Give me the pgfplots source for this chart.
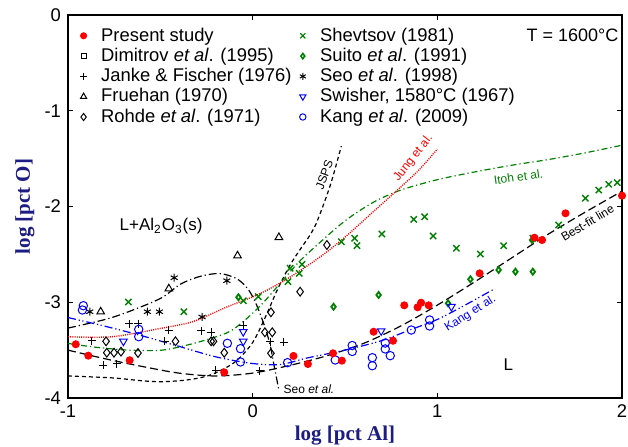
\documentclass[border=0pt]{standalone}
\usepackage{pgfplots}
\pgfplotsset{compat=1.18}
\usepackage{fontspec}
\setmainfont{Liberation Sans}
\newfontfamily\timesfont{Liberation Serif}
\definecolor{axlab}{RGB}{28,28,130}
\definecolor{dgreen}{RGB}{0,128,0}
\definecolor{pblue}{RGB}{0,0,255}
\definecolor{pred}{RGB}{255,0,0}
\begin{document}
\begin{tikzpicture}
\begin{axis}[
  scale only axis, width=277pt, height=191.5pt,
  xmin=-1, xmax=2, ymin=-4, ymax=0,
  xtick={-1,0,1,2}, xticklabels={-1,0,1,2},
  ytick={-4,-3,-2,-1,0}, yticklabels={-4,-3,-2,-1,0},
  tick align=inside, major tick length=2.5pt,
  axis line style={line width=0.6pt},
  tick style={line width=0.6pt, black},
  tick label style={font=\fontsize{9.2}{11}\selectfont},
  xlabel={\timesfont\bfseries log [pct Al]},
  ylabel={\timesfont\bfseries log [pct O]},
  label style={font=\fontsize{10.5}{12}\selectfont, text=axlab},
  xlabel style={at={(axis description cs:0.5,-0.0992)}, anchor=center},
  ylabel style={at={(axis description cs:-0.078,0.5)}, anchor=center},
  clip=false,
  legend columns=2,
  legend cell align=left,
  legend image code/.code={\draw[mark repeat=2,mark phase=2,#1] plot coordinates {(0pt,0pt)(3.4pt,0pt)(6.8pt,0pt)};},
  legend style={draw=none, fill=none, at={(0,1)}, anchor=north west, xshift=6.1pt, yshift=-5.55pt,
    inner sep=0pt, outer sep=0pt, row sep=0.45pt, font=\fontsize{9.2}{11}\selectfont,
    nodes={inner sep=0pt, text height=0.75em, text depth=0.22em},
    /tikz/every odd column/.append style={column sep=7.1pt},
    /tikz/every even column/.append style={column sep=4.1pt}},
  mstyle/.style={only marks, line width=0.5pt},
]
% legend images (interleaved so that the two columns read as in the reference)
\addlegendimage{mstyle, mark=*, mark size=1.5pt, color=pred, fill=pred}
\addlegendentry{Present study}
\addlegendimage{mstyle, mark=x, mark size=1.8pt, color=dgreen, line width=0.6pt}
\addlegendentry{Shevtsov (1981)}
\addlegendimage{mstyle, mark=square, mark size=1.2pt, color=black}
\addlegendentry{Dimitrov \textit{et al}. (1995)}
\addlegendimage{mstyle, mark=diamond, mark size=1.3pt, color=dgreen, line width=0.8pt}
\addlegendentry{Suito \textit{et al}. (1991)}
\addlegendimage{mstyle, mark=+, mark size=1.7pt, color=black}
\addlegendentry{Janke \& Fischer (1976)}
\addlegendimage{mstyle, mark=asterisk, mark size=1.7pt, color=black}
\addlegendentry{Seo \textit{et al}. (1998)}
\addlegendimage{mstyle, mark=triangle, mark size=1.8pt, color=black}
\addlegendentry{Fruehan (1970)}
\addlegendimage{mstyle, mark=triangle, mark size=1.8pt, color=pblue, mark options={rotate=180}}
\addlegendentry{Swisher, 1580°C (1967)}
\addlegendimage{mstyle, mark=diamond, mark size=1.8pt, color=black}
\addlegendentry{Rohde \textit{et al}. (1971)}
\addlegendimage{mstyle, mark=o, mark size=1.6pt, color=pblue}
\addlegendentry{Kang \textit{et al}. (2009)}

% ---------- curves ----------
% Best-fit line
\addplot[forget plot, black, line width=0.6pt, dash pattern=on 4pt off 2pt, smooth] coordinates {
(-1,-3.50) (-0.8,-3.59) (-0.6,-3.67) (-0.4,-3.74) (-0.2,-3.77) (0,-3.74) (0.2,-3.66)
(0.4,-3.56) (0.6,-3.43) (0.8,-3.25) (1.0,-3.03) (1.2,-2.79) (1.4,-2.54) (1.6,-2.29)
(1.8,-2.06) (2.0,-1.84)};
% JSPS
\addplot[forget plot, black, line width=0.6pt, dash pattern=on 2pt off 1.5pt, smooth] coordinates {
(-1,-3.77) (-0.76,-3.79) (-0.6,-3.82) (-0.49,-3.83) (-0.35,-3.81) (-0.23,-3.76) (-0.1,-3.63)
(0.0,-3.42) (0.077,-3.12) (0.131,-2.88) (0.2,-2.62) (0.26,-2.44) (0.31,-2.30) (0.35,-2.15)
(0.42,-1.78) (0.48,-1.37)};
% Seo et al.
\addplot[forget plot, black, line width=0.6pt, dash pattern=on 4pt off 1.5pt on 0.6pt off 1.5pt, smooth] coordinates {
(-1,-3.27) (-0.78,-3.17) (-0.62,-3.06) (-0.49,-2.95) (-0.39,-2.81) (-0.285,-2.73) (-0.18,-2.70)
(-0.09,-2.75) (-0.03,-2.85) (0.01,-2.98) (0.04,-3.12) (0.07,-3.28) (0.095,-3.45) (0.113,-3.63)
(0.13,-3.80) (0.14,-3.90)};
% Kang et al.
\addplot[forget plot, pblue, line width=0.6pt, dash pattern=on 4pt off 1.5pt on 0.6pt off 1.2pt on 0.6pt off 1.5pt, smooth] coordinates {
(-1,-3.16) (-0.8,-3.25) (-0.6,-3.35) (-0.4,-3.46) (-0.2,-3.57) (0,-3.64) (0.15,-3.65)
(0.3,-3.58) (0.5,-3.50) (0.7,-3.40) (0.85,-3.29) (1.0,-3.18) (1.15,-3.03) (1.3,-2.87)};
% Itoh et al.
\addplot[forget plot, dgreen, line width=0.6pt, dash pattern=on 3pt off 1.5pt on 0.6pt off 1.5pt, smooth] coordinates {
(-1,-3.43) (-0.85,-3.47) (-0.67,-3.50) (-0.49,-3.50) (-0.32,-3.43) (-0.14,-3.32) (-0.05,-3.20)
(0.05,-3.02) (0.15,-2.80) (0.25,-2.58) (0.35,-2.40) (0.5,-2.15) (0.65,-1.96) (0.8,-1.83)
(1.0,-1.72) (1.2,-1.64) (1.4,-1.57) (1.6,-1.51) (1.8,-1.44) (2.0,-1.36)};
% Jung et al.
\addplot[forget plot, pred, line width=0.7pt, dash pattern=on 0.5pt off 0.6pt, smooth] coordinates {
(-1,-3.36) (-0.76,-3.36) (-0.49,-3.27) (-0.32,-3.20) (-0.14,-3.05) (0.04,-2.91) (0.2,-2.74)
(0.37,-2.52) (0.5,-2.32) (0.65,-2.06) (0.8,-1.80) (0.9,-1.62) (1.0,-1.40)};

% ---------- data ----------
% Janke & Fischer
\addplot[forget plot, mstyle, mark=+, mark size=2pt, color=black] coordinates {
(-0.872,-3.402) (-0.669,-3.227) (-0.619,-3.227) (-0.454,-3.293) (-0.476,-3.405) (-0.278,-3.297)
(-0.225,-3.311) (-0.050,-3.238) (-0.809,-3.66) (-0.736,-3.64) (-0.199,-3.711) (0.037,-3.718)
(0.095,-3.415) (0.167,-3.418)};
% Fruehan
\addplot[forget plot, mstyle, mark=triangle, mark size=2.2pt, color=black] coordinates {
(-0.823,-3.099) (-0.454,-2.858) (-0.082,-2.514) (0.142,-2.322)};
% Rohde
\addplot[forget plot, mstyle, mark=diamond, mark size=2.2pt, color=black] coordinates {
(-0.794,-3.408) (-0.790,-3.527) (-0.751,-3.527) (-0.713,-3.516) (-0.621,-3.530) (-0.418,-3.408)
(-0.225,-3.408) (-0.212,-3.408) (-0.154,-3.527) (0.066,-3.314) (0.106,-3.314) (0.099,-3.105)
(0.099,-3.533) (0.257,-2.890) (0.402,-2.402)};
% Seo
\addplot[forget plot, mstyle, mark=asterisk, mark size=2pt, color=black] coordinates {
(-0.882,-3.099) (-0.570,-3.099) (-0.505,-3.099) (-0.425,-2.744) (-0.274,-3.154) (-0.140,-2.775)};
% Suito
\addplot[forget plot, mstyle, mark=diamond, mark size=1.5pt, color=dgreen, line width=0.9pt] coordinates {
(-0.077,-2.948) (0.438,-3.047) (0.682,-2.924) (1.058,-3.011) (1.179,-2.760) (1.332,-2.663)
(1.423,-2.681) (1.517,-2.681) (1.513,-2.350)};
% Shevtsov
\addplot[forget plot, mstyle, mark=x, mark size=2.2pt, color=dgreen, line width=0.7pt] coordinates {
(-0.673,-2.997) (-0.373,-3.099) (-0.050,-2.984) (0.030,-2.942) (0.191,-2.785) (0.203,-2.645)
(0.252,-2.698) (0.267,-2.604) (0.480,-2.368) (0.552,-2.332) (0.565,-2.409) (0.700,-2.287)
(0.872,-2.134) (0.931,-2.107) (0.977,-2.308) (1.103,-2.437) (1.233,-2.496) (1.359,-2.409)
(1.517,-2.332) (1.657,-2.193) (1.802,-1.914) (1.874,-1.828) (1.928,-1.768) (1.974,-1.751)};
% Swisher
\addplot[forget plot, mstyle, mark=triangle, mark size=2.2pt, color=pblue, mark options={rotate=180}] coordinates {
(-0.700,-3.408) (-0.051,-3.308) (-0.051,-3.408) (0.696,-3.300) (1.076,-3.046)};
% Kang
\addplot[forget plot, mstyle, mark=o, mark size=2.1pt, color=pblue] coordinates {
(-0.917,-3.036) (-0.922,-3.081) (-0.617,-3.283) (-0.617,-3.360) (-0.137,-3.429) (-0.066,-3.485)
(-0.066,-3.624) (0.189,-3.631) (0.447,-3.603) (0.539,-3.452) (0.539,-3.514) (0.648,-3.579)
(0.648,-3.663) (0.718,-3.426) (0.718,-3.488) (0.745,-3.558) (0.859,-3.290) (0.958,-3.185)
(0.958,-3.248)};
% Present study
\addplot[forget plot, mstyle, mark=*, mark size=1.75pt, color=pred, fill=pred] coordinates {
(-0.958,-3.439) (-0.890,-3.558) (-0.666,-3.606) (-0.154,-3.732) (0.221,-3.561) (0.299,-3.645)
(0.435,-3.533) (0.483,-3.610) (0.655,-3.308) (0.760,-3.402) (0.821,-3.032) (0.893,-3.053)
(0.912,-3.005) (0.953,-3.032) (1.229,-2.698) (1.526,-2.326) (1.567,-2.350) (1.694,-2.071)
(2.0,-1.887)};

% ---------- annotations ----------
\node[font=\fontsize{8.5}{10}\selectfont] at (axis cs:-0.496,-2.204) {L+Al\textsubscript{2}O\textsubscript{3}(s)};
\node[font=\fontsize{8.5}{10}\selectfont] at (axis cs:1.385,-3.655) {L};
\node[font=\fontsize{9}{11}\selectfont] at (axis cs:1.732,-0.209) {T = 1600°C};
\node[font=\fontsize{6}{7}\selectfont, rotate=70, inner sep=0pt] at (axis cs:0.388,-1.671) {JSPS};
\node[font=\fontsize{6}{7}\selectfont, rotate=52, text=pred, inner sep=0pt] at (axis cs:0.870,-1.494) {Jung et al.};
\node[font=\fontsize{6}{7}\selectfont, rotate=8, text=dgreen, inner sep=0pt] at (axis cs:1.439,-1.692) {Itoh et al.};
\node[font=\fontsize{6}{7}\selectfont, rotate=32, text=pblue, inner sep=0pt] at (axis cs:1.179,-3.120) {Kang et al.};
\node[font=\fontsize{6}{7}\selectfont, rotate=31, inner sep=0pt] at (axis cs:1.813,-2.172) {Best-fit line};
\node[font=\fontsize{6}{7}\selectfont, anchor=west, inner sep=0.5pt] at (axis cs:0.16,-3.906) {Seo \textit{et al.}};

\coordinate (SW) at (rel axis cs:0,0);
\coordinate (NE) at (rel axis cs:1,1);
\end{axis}
\pgfresetboundingbox
\path ([shift={(-34pt,-24.5pt)}]SW) rectangle ([shift={(3pt,7.5pt)}]NE);
\end{tikzpicture}
\end{document}
